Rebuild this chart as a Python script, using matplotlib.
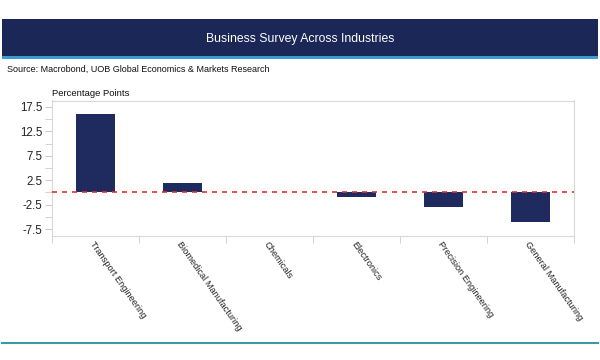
import numpy as np
import matplotlib.pyplot as plt
from matplotlib.patches import Rectangle
from matplotlib.lines import Line2D

# Dados
categories = ["Transport Engineering", "Biomedical Manufacturing", "Chemicals",
              "Electronics", "Precision Engineering", "General Manufacturing"]
values = [16.0, 2.0, 0.0, -1.0, -3.0, -6.0]
ytick_labels = [17.5, 12.5, 7.5, 2.5, -2.5, -7.5]

title = "Business Survey Across Industries"
source = "Source: Macrobond, UOB Global Economics & Markets Research"

plain = ['Liberation Sans', 'DejaVu Sans']

fig = plt.figure(figsize=(6, 3.6), dpi=100)
fig.patch.set_facecolor('white')

# Faixa do título
fig.patches.append(Rectangle((2 / 600, 1 - 56 / 360), 596 / 600, 37 / 360,
                             transform=fig.transFigure, facecolor='#1b2857',
                             edgecolor='none'))
fig.patches.append(Rectangle((2 / 600, 1 - 59 / 360), 596 / 600, 3 / 360,
                             transform=fig.transFigure, facecolor='#3d9ad6',
                             edgecolor='none'))
fig.text(0.5, 1 - 39 / 360, title, color='white', fontsize=8.8,
         family=plain, ha='center', va='center')
fig.text(7 / 600, 1 - 69.5 / 360, source, color='#111111', fontsize=6.5,
         family=plain, ha='left', va='center')

# Linha inferior
fig.add_artist(Line2D([2 / 600, 598 / 600], [1 - 343 / 360, 1 - 343 / 360],
                      transform=fig.transFigure, color='#3b98a8', lw=1.5))

ax = fig.add_axes([52 / 600, 1 - 235.5 / 360, 522 / 600, 135 / 360])
x = np.arange(len(categories))
ax.bar(x, values, width=0.45, color='#1f2b5e', zorder=2)
ax.axhline(0, color='#e0302e', lw=1.2, ls=(0, (3, 3)), zorder=3)

ax.set_xlim(-0.5, len(categories) - 0.5)
ax.set_ylim(-8.83, 18.83)

ax.set_yticks(ytick_labels)
ax.set_yticklabels([f"{v:g}" for v in ytick_labels], family=plain, fontsize=8.3,
                   color='#222222')
ax.set_yticks([15, 10, 5, 0, -5], minor=True)

ax.set_xticks(x)
ax.set_xticklabels(categories, rotation=-55, ha='left', va='top',
                   rotation_mode='anchor', family=plain, fontsize=6.7,
                   color='#222222')
ax.set_xticks(np.arange(len(categories) + 1) - 0.5, minor=True)
ax.tick_params(axis='x', which='major', length=0, pad=3)
ax.tick_params(axis='x', which='minor', length=5, color='#cccccc')
ax.tick_params(axis='y', which='both', length=5, color='#cccccc', pad=2)

for s in ax.spines.values():
    s.set_color('#d9d9d9')
    s.set_linewidth(0.8)

ax.text(0, 1.02, "Percentage Points", transform=ax.transAxes, fontsize=6.8,
        family=plain, ha='left', va='bottom', color='#111111')

fig.savefig('out.png', dpi=100)
